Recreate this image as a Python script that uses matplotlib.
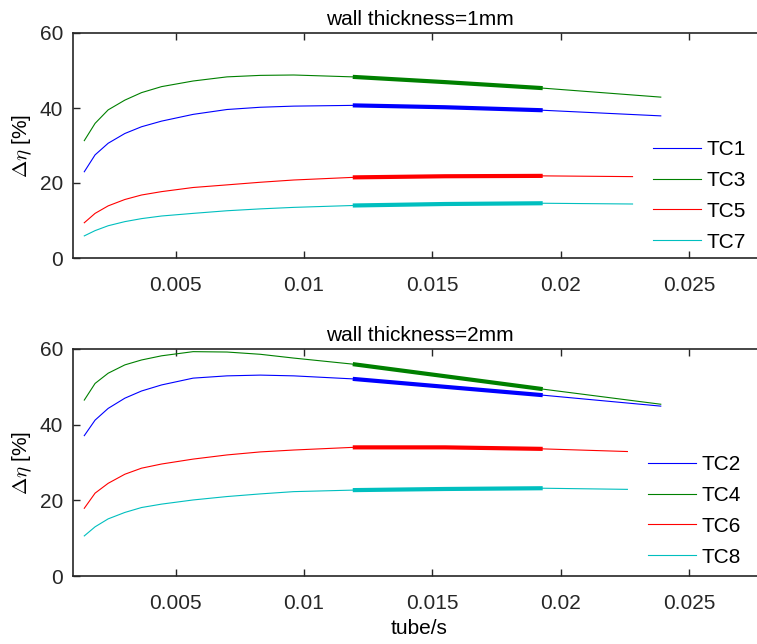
import numpy as np
import matplotlib
matplotlib.use('Agg')
import matplotlib.pyplot as plt

plt.rcParams['font.family'] = ['Liberation Sans', 'DejaVu Sans']
plt.rcParams['mathtext.fontset'] = 'cm'

# shared x grid (tube/s), last point differs per curve
x_base = [0.00144, 0.00186, 0.00237, 0.00302, 0.00367, 0.00445, 0.00568,
          0.007, 0.0083, 0.0096, 0.0119, 0.0155, 0.0193]
x_end_top = [0.0239, 0.0239, 0.0228, 0.0228]
x_end_bot = [0.0239, 0.0239, 0.0226, 0.0226]

# wall thickness = 1mm
tc1 = [23.0, 27.5, 30.6, 33.2, 35.0, 36.5, 38.3, 39.6, 40.2, 40.5, 40.7, 40.2, 39.4, 37.9]
tc3 = [31.3, 35.9, 39.5, 42.1, 44.1, 45.7, 47.2, 48.3, 48.7, 48.8, 48.3, 46.9, 45.3, 42.9]
tc5 = [9.4, 11.9, 13.9, 15.6, 16.8, 17.7, 18.8, 19.5, 20.2, 20.8, 21.5, 21.8, 21.9, 21.7]
tc7 = [5.9, 7.3, 8.6, 9.7, 10.5, 11.2, 11.9, 12.6, 13.1, 13.5, 14.0, 14.4, 14.6, 14.4]

# wall thickness = 2mm
tc2 = [37.1, 41.2, 44.3, 47.0, 48.9, 50.5, 52.3, 52.9, 53.1, 52.9, 52.1, 50.0, 47.8, 44.9]
tc4 = [46.5, 50.9, 53.6, 55.8, 57.1, 58.2, 59.3, 59.2, 58.6, 57.6, 56.0, 52.8, 49.4, 45.4]
tc6 = [17.9, 21.9, 24.5, 26.9, 28.5, 29.6, 30.9, 32.0, 32.8, 33.3, 34.0, 34.0, 33.6, 32.9]
tc8 = [10.6, 13.0, 15.1, 16.8, 18.1, 19.0, 20.1, 21.0, 21.7, 22.3, 22.7, 23.0, 23.2, 22.9]

# highlighted range
x_lo, x_hi = 0.0119, 0.0193

colors = ['#0000ff', '#008000', '#ff0000', '#00bfbf']
xticks = [0.005, 0.01, 0.015, 0.02, 0.025]
xtick_labels = ['0.005', '0.01', '0.015', '0.02', '0.025']
yticks = [0, 20, 40, 60]

fig = plt.figure(figsize=(7.57, 6.44), dpi=100)
W, H = 757, 644
FS = 15


def make_axes(top_px, bot_px):
    return fig.add_axes([73 / W, (H - bot_px) / H, 693 / W, (bot_px - top_px) / H])


def panel(ax, curves, labels, x_ends, title, leg_xy):
    handles = []
    for y, lab, c, xe in zip(curves, labels, colors, x_ends):
        x = np.array(x_base + [xe])
        y = np.array(y)
        h, = ax.plot(x, y, color=c, lw=0.8)
        m = (x >= x_lo - 1e-9) & (x <= x_hi + 1e-9)
        ax.plot(x[m], y[m], color=c, lw=3, solid_capstyle='butt')
        h.set_label(lab)
        handles.append(h)
    ax.set_xlim(0.001, 0.028)
    ax.set_ylim(0, 60)
    ax.set_xticks(xticks)
    ax.set_xticklabels(xtick_labels)
    ax.set_yticks(yticks)
    ax.tick_params(direction='in', length=5, width=1, top=True, right=True,
                   labelsize=FS, colors='#262626')
    ax.tick_params(axis='y', pad=7)
    ax.tick_params(axis='x', pad=13)
    for s in ax.spines.values():
        s.set_linewidth(1.2)
        s.set_color('#262626')
    ax.set_title(title, fontsize=FS, pad=6)
    ax.set_ylabel(r'$\Delta\eta$ [%]', fontsize=FS, labelpad=4)
    ax.legend(handles=handles, loc='upper left', frameon=False, fontsize=FS,
              bbox_to_anchor=(leg_xy[0] / W, 1 - leg_xy[1] / H),
              bbox_transform=fig.transFigure, borderpad=0, borderaxespad=0,
              handlelength=2.3, handletextpad=0.25, labelspacing=0.57)


ax1 = make_axes(33, 258)
panel(ax1, [tc1, tc3, tc5, tc7], ['TC1', 'TC3', 'TC5', 'TC7'], x_end_top,
      'wall thickness=1mm', (653, 140))

ax2 = make_axes(349, 576)
panel(ax2, [tc2, tc4, tc6, tc8], ['TC2', 'TC4', 'TC6', 'TC8'], x_end_bot,
      'wall thickness=2mm', (648, 455))
ax2.set_xlabel('tube/s', fontsize=FS, labelpad=4)

fig.savefig('out.png', dpi=100)
